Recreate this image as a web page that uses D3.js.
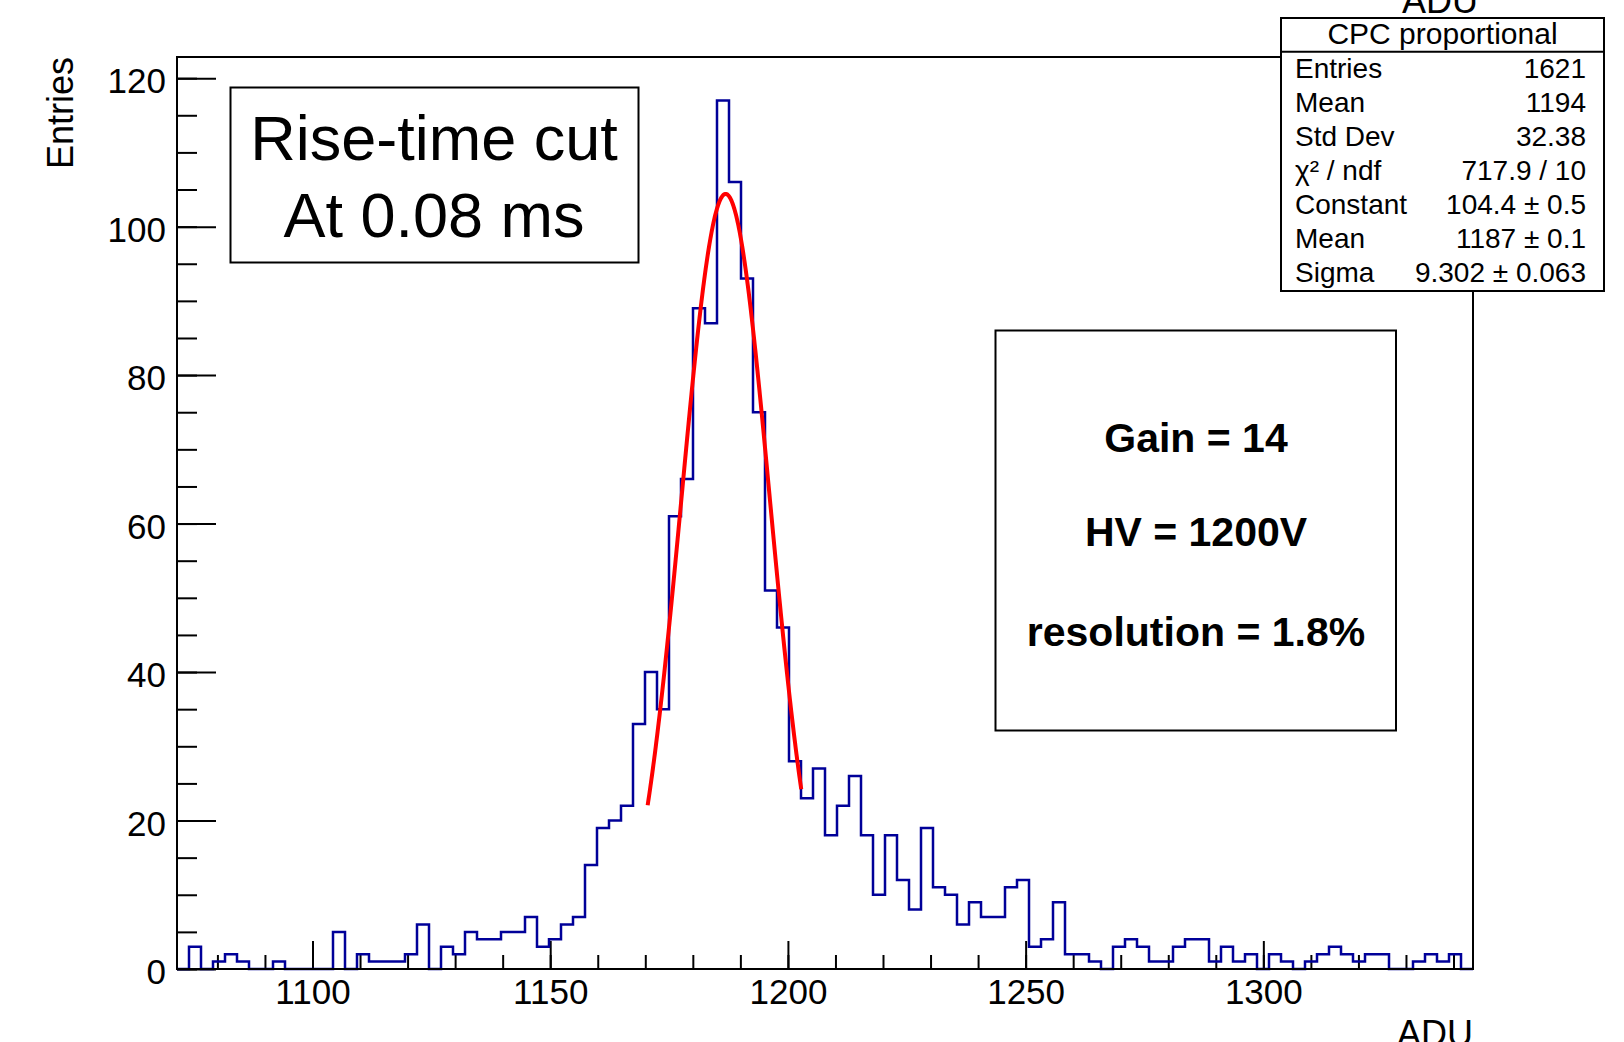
<!DOCTYPE html>
<html>
<head>
<meta charset="utf-8">
<script src="https://cdn.jsdelivr.net/npm/d3@7"></script>
<style>
  body { margin: 0; background: #fff; }
  svg { display: block; font-family: "Liberation Sans", Arial, Helvetica, sans-serif; }
</style>
</head>
<body>
<div id="canvas"></div>
<script>
// histogram: 108 bins between xMin and xMax (ADU)
const xMin = 1071.5;
const xMax = 1344.1;
const counts = [
  0, 3, 0, 1, 2, 1, 0, 0, 1, 0, 0, 0, 0, 5, 0, 2, 1, 1, 1, 2,
  6, 0, 3, 2, 5, 4, 4, 5, 5, 7, 3, 4, 6, 7, 14, 19, 20, 22, 33, 40,
  35, 61, 66, 89, 87, 117, 106, 93, 75, 51, 46, 28, 23, 27, 18, 22, 26, 18, 10, 18,
  12, 8, 19, 11, 10, 6, 9, 7, 7, 11, 12, 3, 4, 9, 2, 2, 1, 0, 3, 4,
  3, 1, 1, 3, 4, 4, 1, 3, 1, 2, 0, 2, 1, 0, 1, 2, 3, 2, 1, 2,
  2, 0, 0, 1, 2, 1, 2, 0
];
const yMax = 122.85;

const xTicks = [1100, 1150, 1200, 1250, 1300];
const yTicks = [0, 20, 40, 60, 80, 100, 120];

// gaussian fit (red curve)
const fitConstant = 104.4;
const fitMean = 1186.9;
const fitSigma = 9.302;
const fitRange = [1170.5, 1202.8];

const statTitle = "CPC proportional";
const statLabels = ["Entries", "Mean", "Std Dev", "χ² / ndf", "Constant", "Mean", "Sigma"];
const statValues = ["1621", "1194", "32.38", "717.9 / 10", "104.4 ± 0.5", "1187 ± 0.1", "9.302 ± 0.063"];

const cutLines = ["Rise-time cut", "At 0.08 ms"];
const infoLines = ["Gain = 14", "HV = 1200V", "resolution = 1.8%"];

const width = 1624;
const height = 1042;
const margin = {top: 57, left: 177, bottom: 73, right: 151};
const iwidth = width - margin.left - margin.right;
const iheight = height - margin.top - margin.bottom;

const svg = d3.select("#canvas").append("svg")
  .attr("width", width)
  .attr("height", height);

// histogram title, mostly hidden under the stats box
svg.append("text")
  .attr("x", 1440).attr("y", 13)
  .attr("text-anchor", "middle")
  .style("font-size", "36px")
  .text("ADU");

const g = svg.append("g").attr("transform", `translate(${margin.left},${margin.top})`);

const x = d3.scaleLinear().domain([xMin, xMax]).range([0, iwidth]);
const y = d3.scaleLinear().domain([0, yMax]).range([iheight, 0]);

const binW = (xMax - xMin) / counts.length;

// minor ticks
g.append("g")
  .attr("transform", `translate(0,${iheight})`)
  .call(d3.axisBottom(x).tickValues(d3.range(1080, 1341, 10)).tickSizeInner(-14).tickSizeOuter(0).tickFormat(""))
  .call(a => a.select(".domain").remove());
g.append("g")
  .call(d3.axisLeft(y).tickValues(d3.range(0, 121, 5)).tickSizeInner(-20).tickSizeOuter(0).tickFormat(""))
  .call(a => a.select(".domain").remove());

// major ticks + labels
const xAxis = g.append("g")
  .attr("transform", `translate(0,${iheight})`)
  .call(d3.axisBottom(x).tickValues(xTicks).tickFormat(d3.format("d"))
    .tickSizeInner(-28).tickSizeOuter(0).tickPadding(10));
xAxis.select(".domain").remove();

const yAxis = g.append("g")
  .call(d3.axisLeft(y).tickValues(yTicks).tickFormat(d3.format("d"))
    .tickSizeInner(-39).tickSizeOuter(0).tickPadding(11));
yAxis.select(".domain").remove();
yAxis.selectAll("text").attr("dy", "0.42em");

svg.selectAll(".tick line").attr("stroke", "#000").attr("stroke-width", 2);
svg.selectAll(".tick text")
  .attr("fill", "#000")
  .style("font-family", "\"Liberation Sans\", Arial, Helvetica, sans-serif")
  .style("font-size", "35px");

// histogram outline
const pts = [[xMin, 0]];
counts.forEach((c, i) => pts.push([xMin + i * binW, c]));
pts.push([xMax, 0]);
const step = d3.line()
  .x(d => x(d[0]))
  .y(d => y(d[1]))
  .curve(d3.curveStepAfter);
g.append("path")
  .datum(pts)
  .attr("d", step)
  .attr("fill", "none")
  .attr("stroke", "#000099")
  .attr("stroke-width", 2.5);

// fit curve
const fitX = d3.range(fitRange[0], fitRange[1], 0.1).concat([fitRange[1]]);
const fitPts = fitX.map(v => [v, fitConstant * Math.exp(-0.5 * Math.pow((v - fitMean) / fitSigma, 2))]);
g.append("path")
  .datum(fitPts)
  .attr("d", d3.line().x(d => x(d[0])).y(d => y(d[1])))
  .attr("fill", "none")
  .attr("stroke", "#ff0000")
  .attr("stroke-width", 4);

// frame
g.append("rect")
  .attr("width", iwidth).attr("height", iheight)
  .attr("fill", "none").attr("stroke", "#000").attr("stroke-width", 2);

// axis titles
svg.append("text")
  .attr("transform", "translate(73,57) rotate(-90)")
  .attr("text-anchor", "end")
  .style("font-size", "36px")
  .text("Entries");
svg.append("text")
  .attr("x", 1473).attr("y", 1046)
  .attr("text-anchor", "end")
  .style("font-size", "36px")
  .text("ADU");

// rise-time box
svg.append("rect")
  .attr("x", 230.5).attr("y", 87.5).attr("width", 408).attr("height", 175)
  .attr("fill", "#fff").attr("stroke", "#000").attr("stroke-width", 2);
svg.selectAll(".cut").data(cutLines).enter().append("text")
  .attr("class", "cut")
  .attr("x", 434)
  .attr("y", (d, i) => 160 + i * 76.5)
  .attr("text-anchor", "middle")
  .style("font-size", "63px")
  .text(d => d);

// info box
svg.append("rect")
  .attr("x", 995.5).attr("y", 330.5).attr("width", 400.5).attr("height", 400)
  .attr("fill", "#fff").attr("stroke", "#000").attr("stroke-width", 2);
svg.selectAll(".info").data(infoLines).enter().append("text")
  .attr("class", "info")
  .attr("x", 1196)
  .attr("y", (d, i) => [451.7, 545.7, 645.5][i])
  .attr("text-anchor", "middle")
  .style("font-size", "41px")
  .style("font-weight", "bold")
  .text(d => d);

// stats box
svg.append("rect")
  .attr("x", 1281).attr("y", 18).attr("width", 323).attr("height", 273)
  .attr("fill", "#fff").attr("stroke", "#000").attr("stroke-width", 2);
svg.append("line")
  .attr("x1", 1281).attr("x2", 1604).attr("y1", 51.7).attr("y2", 51.7)
  .attr("stroke", "#000").attr("stroke-width", 2);
svg.append("text")
  .attr("x", 1442.5).attr("y", 43.5)
  .attr("text-anchor", "middle")
  .style("font-size", "30px")
  .text(statTitle);
svg.selectAll(".slab").data(statLabels).enter().append("text")
  .attr("class", "slab")
  .attr("x", 1295)
  .attr("y", (d, i) => 77.5 + i * 34.05)
  .style("font-size", "28px")
  .text(d => d);
svg.selectAll(".sval").data(statValues).enter().append("text")
  .attr("class", "sval")
  .attr("x", 1586)
  .attr("y", (d, i) => 77.5 + i * 34.05)
  .attr("text-anchor", "end")
  .style("font-size", "28px")
  .text(d => d);
</script>
</body>
</html>
